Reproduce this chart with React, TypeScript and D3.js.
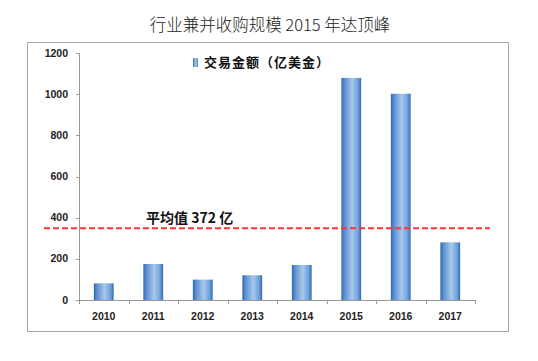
import React from "react";
import * as d3 from "d3";

const years = ["2010", "2011", "2012", "2013", "2014", "2015", "2016", "2017"];
const values = [81, 175, 99, 120, 170, 1079, 1002, 280];
const yTicks = [0, 200, 400, 600, 800, 1000, 1200];
const avgLineValue = 348;
const avgLabel = "平均值 372 亿";
const legendLabel = "交易金额（亿美金）";
const title = "行业兼并收购规模 2015 年达顶峰";

export default function App() {
  const W = 538, H = 361;
  const x0 = 79, x1 = 475, yTop = 53, yBot = 300;
  const x = d3.scaleBand<string>().domain(years).range([x0, x1]).paddingInner(0.6).paddingOuter(0.3);
  const xb = d3.scaleBand<string>().domain(years).range([x0, x1]);
  const y = d3.scaleLinear().domain([0, 1200]).range([yBot, yTop]);
  const font = "'Liberation Sans', Arial, sans-serif";
  const cjk = "'Noto Sans CJK SC', sans-serif";
  const bounds = years.map((d) => xb(d) as number).concat([x1]);
  return (
    <svg width={W} height={H} style={{ position: "absolute", left: 0, top: 0, background: "#fff" }}>
      <defs>
        <linearGradient id="barGrad" x1="0" x2="1" y1="0" y2="0">
          <stop offset="0" stopColor="#2f67b0" />
          <stop offset="0.15" stopColor="#5b8ed0" />
          <stop offset="0.55" stopColor="#a6c9ec" />
          <stop offset="0.85" stopColor="#6f9fd8" />
          <stop offset="1" stopColor="#2f67b0" />
        </linearGradient>
      </defs>
      <text x={270} y={31} textAnchor="middle" fontFamily={cjk} fontWeight={300} fontSize={16.5} fill="#222" style={{ whiteSpace: "pre" }}>{title}</text>
      <rect x={27.5} y={42.5} width={481} height={289} fill="none" stroke="#a6a6a6" strokeWidth={1} />
      {/* y axis */}
      <line x1={x0 + 0.5} x2={x0 + 0.5} y1={yTop} y2={yBot} stroke="#999" />
      {yTicks.map((t) => (
        <g key={t}>
          <line x1={x0 - 3} x2={x0} y1={Math.round(y(t)) + 0.5} y2={Math.round(y(t)) + 0.5} stroke="#999" />
          <text x={68} y={y(t) + 3.5} textAnchor="end" fontFamily={font} fontWeight="bold" fontSize={10.5} fill="#222">{t}</text>
        </g>
      ))}
      {/* bars */}
      {years.map((d, i) => (
        <rect key={d} x={x(d)} y={y(values[i])} width={x.bandwidth()} height={yBot - y(values[i])} fill="url(#barGrad)" />
      ))}
      {/* x axis */}
      <line x1={x0} x2={x1} y1={yBot + 0.5} y2={yBot + 0.5} stroke="#999" />
      {bounds.map((b, i) => (
        <line key={i} x1={Math.round(b) + 0.5} x2={Math.round(b) + 0.5} y1={yBot} y2={yBot + 4} stroke="#999" />
      ))}
      {years.map((d) => (
        <text key={d} x={(xb(d) as number) + xb.bandwidth() / 2} y={320} textAnchor="middle" fontFamily={font} fontWeight="bold" fontSize={10.5} fill="#222">{d}</text>
      ))}
      {/* average line */}
      <line x1={44} x2={490} y1={y(avgLineValue)} y2={y(avgLineValue)} stroke="#ff3333" strokeWidth={2} strokeDasharray="6,3" />
      <text x={146} y={223} fontFamily={cjk} fontWeight="bold" fontSize={14} fill="#111">{avgLabel}</text>
      {/* legend */}
      <rect x={193} y={58} width={5} height={9} fill="url(#barGrad)" />
      <text x={204} y={67} fontFamily={cjk} fontWeight="bold" fontSize={13} letterSpacing={1} fill="#111">{legendLabel}</text>
    </svg>
  );
}
